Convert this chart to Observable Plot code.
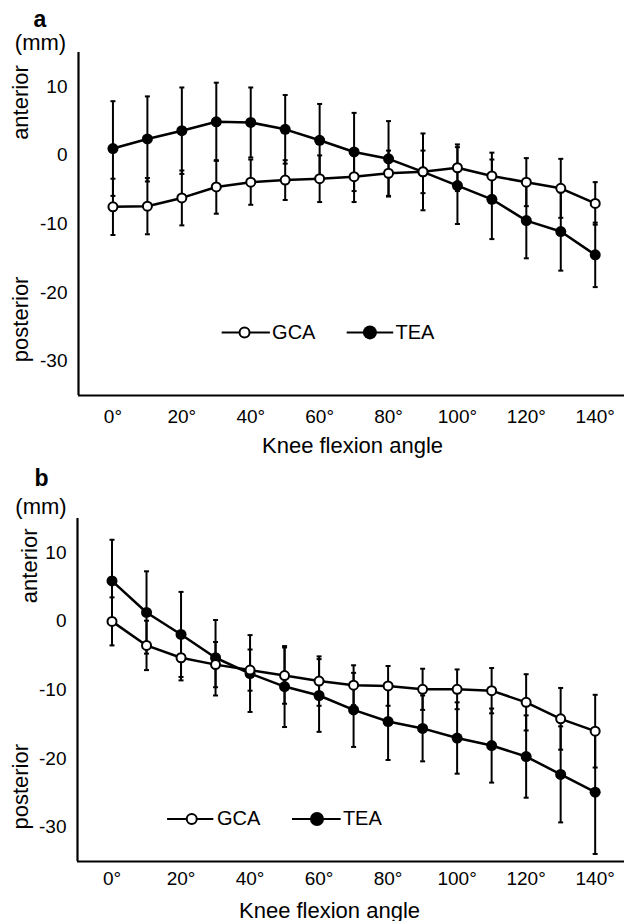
<!DOCTYPE html>
<html>
<head>
<meta charset="utf-8">
<script src="https://cdn.jsdelivr.net/npm/d3@7"></script>
<script src="https://cdn.jsdelivr.net/npm/@observablehq/plot@0.6"></script>
<style>
  html, body { margin: 0; padding: 0; background: #fff; }
  #chart { width: 624px; }
  #chart svg { display: block; }
</style>
</head>
<body>
<div id="chart"></div>
<script>
// ---- Data ----
const angles = [0, 10, 20, 30, 40, 50, 60, 70, 80, 90, 100, 110, 120, 130, 140];

// Panel a
const gcaA   = [-7.5, -7.4, -6.2, -4.6, -3.9, -3.6, -3.4, -3.1, -2.6, -2.4, -1.8, -3.0, -3.9, -4.8, -7.0];
const gcaASd = [ 4.1,  4.1,  4.0,  3.9,  3.3,  2.9,  3.4,  3.7,  3.3,  3.1,  3.4,  3.4,  3.5,  4.3,  3.1];
const teaA   = [ 1.0,  2.4,  3.6,  4.9,  4.8,  3.8,  2.2,  0.5, -0.5, -2.4, -4.4, -6.4, -9.5, -11.1, -14.5];
const teaASd = [ 6.9,  6.2,  6.3,  5.7,  5.1,  5.0,  5.3,  5.7,  5.5,  5.6,  5.6,  5.8,  5.5,  5.7,  4.7];

// Panel b
const gcaB   = [ 0.0, -3.5, -5.3, -6.3, -7.1, -7.9, -8.7, -9.3, -9.4, -9.9, -9.9, -10.1, -11.8, -14.2, -16.0];
const gcaBSd = [ 3.5,  3.6,  3.3,  3.3,  3.0,  4.1,  3.6,  2.9,  2.9,  3.0,  2.9,  3.3,  4.1,  4.5,  5.3];
const teaB   = [ 5.9,  1.3, -1.9, -5.3, -7.6, -9.5, -10.8, -12.9, -14.6, -15.6, -17.0, -18.1, -19.7, -22.3, -24.9];
const teaBSd = [ 6.0,  6.0,  6.2,  5.5,  5.6,  5.9,  5.3,  5.4,  5.6,  4.8,  5.2,  5.4,  6.0,  7.0,  9.0];

const seriesNames = ["GCA", "TEA"];
const xTicks = [0, 20, 40, 60, 80, 100, 120, 140];
const xTickLabels = ["0°", "20°", "40°", "60°", "80°", "100°", "120°", "140°"];
const yTicks = [-30, -20, -10, 0, 10];
const yTickLabels = ["-30", "-20", "-10", "0", "10"];
const xTitle = "Knee flexion angle";
const unitLabel = "(mm)";
const dirLabels = ["anterior", "posterior"];

// ---- Drawing ----
const FONT = "'Liberation Sans', Arial, Helvetica, sans-serif";
const capSymbol = {
  draw(ctx, size) {
    const w = Math.sqrt(size / Math.PI);
    ctx.moveTo(-w, 0);
    ctx.lineTo(w, 0);
  }
};

function rows(series, means, sds) {
  return angles.map((a, i) => ({angle: a, series, mean: means[i], sd: sds[i]}));
}

function panel(cfg) {
  const gca = rows(seriesNames[0], cfg.gca, cfg.gcaSd);
  const tea = rows(seriesNames[1], cfg.tea, cfg.teaSd);
  const all = [...gca, ...tea];
  const L = cfg.legend;
  return Plot.plot({
    width: 624,
    height: cfg.height,
    marginLeft: cfg.ml,
    marginRight: 0,
    marginTop: cfg.mt,
    marginBottom: cfg.mb,
    style: {fontFamily: FONT, fontSize: "19px", color: "black", background: "white", overflow: "visible"},
    x: {domain: [-10, 148.5], ticks: xTicks, tickFormat: d => xTickLabels[xTicks.indexOf(d)],
        tickSize: 0, tickPadding: cfg.xPad, label: null},
    y: {domain: [-35, 15], ticks: yTicks, tickFormat: d => yTickLabels[yTicks.indexOf(d)],
        tickSize: 0, tickPadding: 11, label: null},
    marks: [
      // error bars
      Plot.ruleX(all, {x: "angle", y1: d => d.mean - d.sd, y2: d => d.mean + d.sd, stroke: "black", strokeWidth: 2}),
      Plot.dot(all, {x: "angle", y: d => d.mean + d.sd, symbol: capSymbol, r: 2.5, fill: "none", stroke: "black", strokeWidth: 2}),
      Plot.dot(all, {x: "angle", y: d => d.mean - d.sd, symbol: capSymbol, r: 2.5, fill: "none", stroke: "black", strokeWidth: 2}),
      // lines
      Plot.line(all, {x: "angle", y: "mean", z: "series", stroke: "black", strokeWidth: 2.5}),
      // points
      Plot.dot(tea, {x: "angle", y: "mean", r: 5.5, fill: "black", stroke: "none"}),
      Plot.dot(gca, {x: "angle", y: "mean", r: 4.5, fill: "white", stroke: "black", strokeWidth: 2}),
      // axis lines
      Plot.ruleX([-10], {stroke: "black", strokeWidth: 2.2}),
      Plot.ruleY([-35], {stroke: "black", strokeWidth: 2.2}),
      // legend
      Plot.ruleY([{y: L.y, x1: L.gcaLine[0], x2: L.gcaLine[1]}, {y: L.y, x1: L.teaLine[0], x2: L.teaLine[1]}],
                 {y: "y", x1: "x1", x2: "x2", stroke: "black", strokeWidth: 2}),
      Plot.dot([{x: L.teaDot, y: L.y}], {x: "x", y: "y", r: 7, fill: "black", stroke: "none"}),
      Plot.dot([{x: L.gcaDot, y: L.y}], {x: "x", y: "y", r: 5, fill: "white", stroke: "black", strokeWidth: 2}),
      Plot.text([{x: L.gcaText, y: L.y, t: seriesNames[0]}, {x: L.teaText, y: L.y, t: seriesNames[1]}],
                {x: "x", y: "y", text: "t", textAnchor: "start", lineAnchor: "middle", fontSize: 20, fill: "black"}),
      // x title
      Plot.text([xTitle], {text: d => d, frameAnchor: "bottom", dx: cfg.titleDx, dy: cfg.titleDy,
                           lineAnchor: "middle", fontSize: 22, fill: "black"}),
      // panel letter and unit
      Plot.text([cfg.letter], {text: d => d, frameAnchor: "top-left", dx: cfg.letterDx, dy: cfg.letterDy,
                               textAnchor: "middle", lineAnchor: "middle", fontSize: 23, fontWeight: "bold", fill: "black"}),
      Plot.text([unitLabel], {text: d => d, frameAnchor: "top-left", dx: cfg.unitDx, dy: cfg.unitDy,
                              textAnchor: "middle", lineAnchor: "middle", fontSize: 22, fill: "black"}),
      // direction labels
      Plot.text([{t: dirLabels[0], y: cfg.antY}], {y: "y", text: "t", frameAnchor: "left", dx: cfg.antDx,
                 rotate: -90, textAnchor: "middle", lineAnchor: "middle", fontSize: 22, fill: "black"}),
      Plot.text([{t: dirLabels[1], y: cfg.postY}], {y: "y", text: "t", frameAnchor: "left", dx: cfg.postDx,
                 rotate: -90, textAnchor: "middle", lineAnchor: "middle", fontSize: 22, fill: "black"})
    ]
  });
}

const chart = document.getElementById("chart");

chart.appendChild(panel({
  gca: gcaA, gcaSd: gcaASd, tea: teaA, teaSd: teaASd,
  height: 460, ml: 78, mt: 52, mb: 65, xPad: 14,
  titleDx: 1, titleDy: 50,
  letter: "a", letterDx: -38.5, letterDy: -33, unitDx: -38, unitDy: -9.5,
  antY: 7.7, antDx: -57.5, postY: -23.9, postDx: -57.5,
  legend: {y: -25.8, gcaLine: [31.7, 45.7], gcaDot: 38.2, gcaText: 46.2,
           teaLine: [68.0, 81.5], teaDot: 74.6, teaText: 82.0}
}));

chart.appendChild(panel({
  gca: gcaB, gcaSd: gcaBSd, tea: teaB, teaSd: teaBSd,
  height: 461, ml: 77, mt: 58, mb: 60, xPad: 10,
  titleDx: -21.5, titleDy: 49,
  letter: "b", letterDx: -36, letterDy: -40, unitDx: -36.5, unitDy: -12,
  antY: 8.1, antDx: -48, postY: -24.1, postDx: -56.5,
  legend: {y: -28.8, gcaLine: [16.1, 29.5], gcaDot: 23.1, gcaText: 30.4,
           teaLine: [52.3, 66.4], teaDot: 59.4, teaText: 66.9}
}));
</script>
</body>
</html>
